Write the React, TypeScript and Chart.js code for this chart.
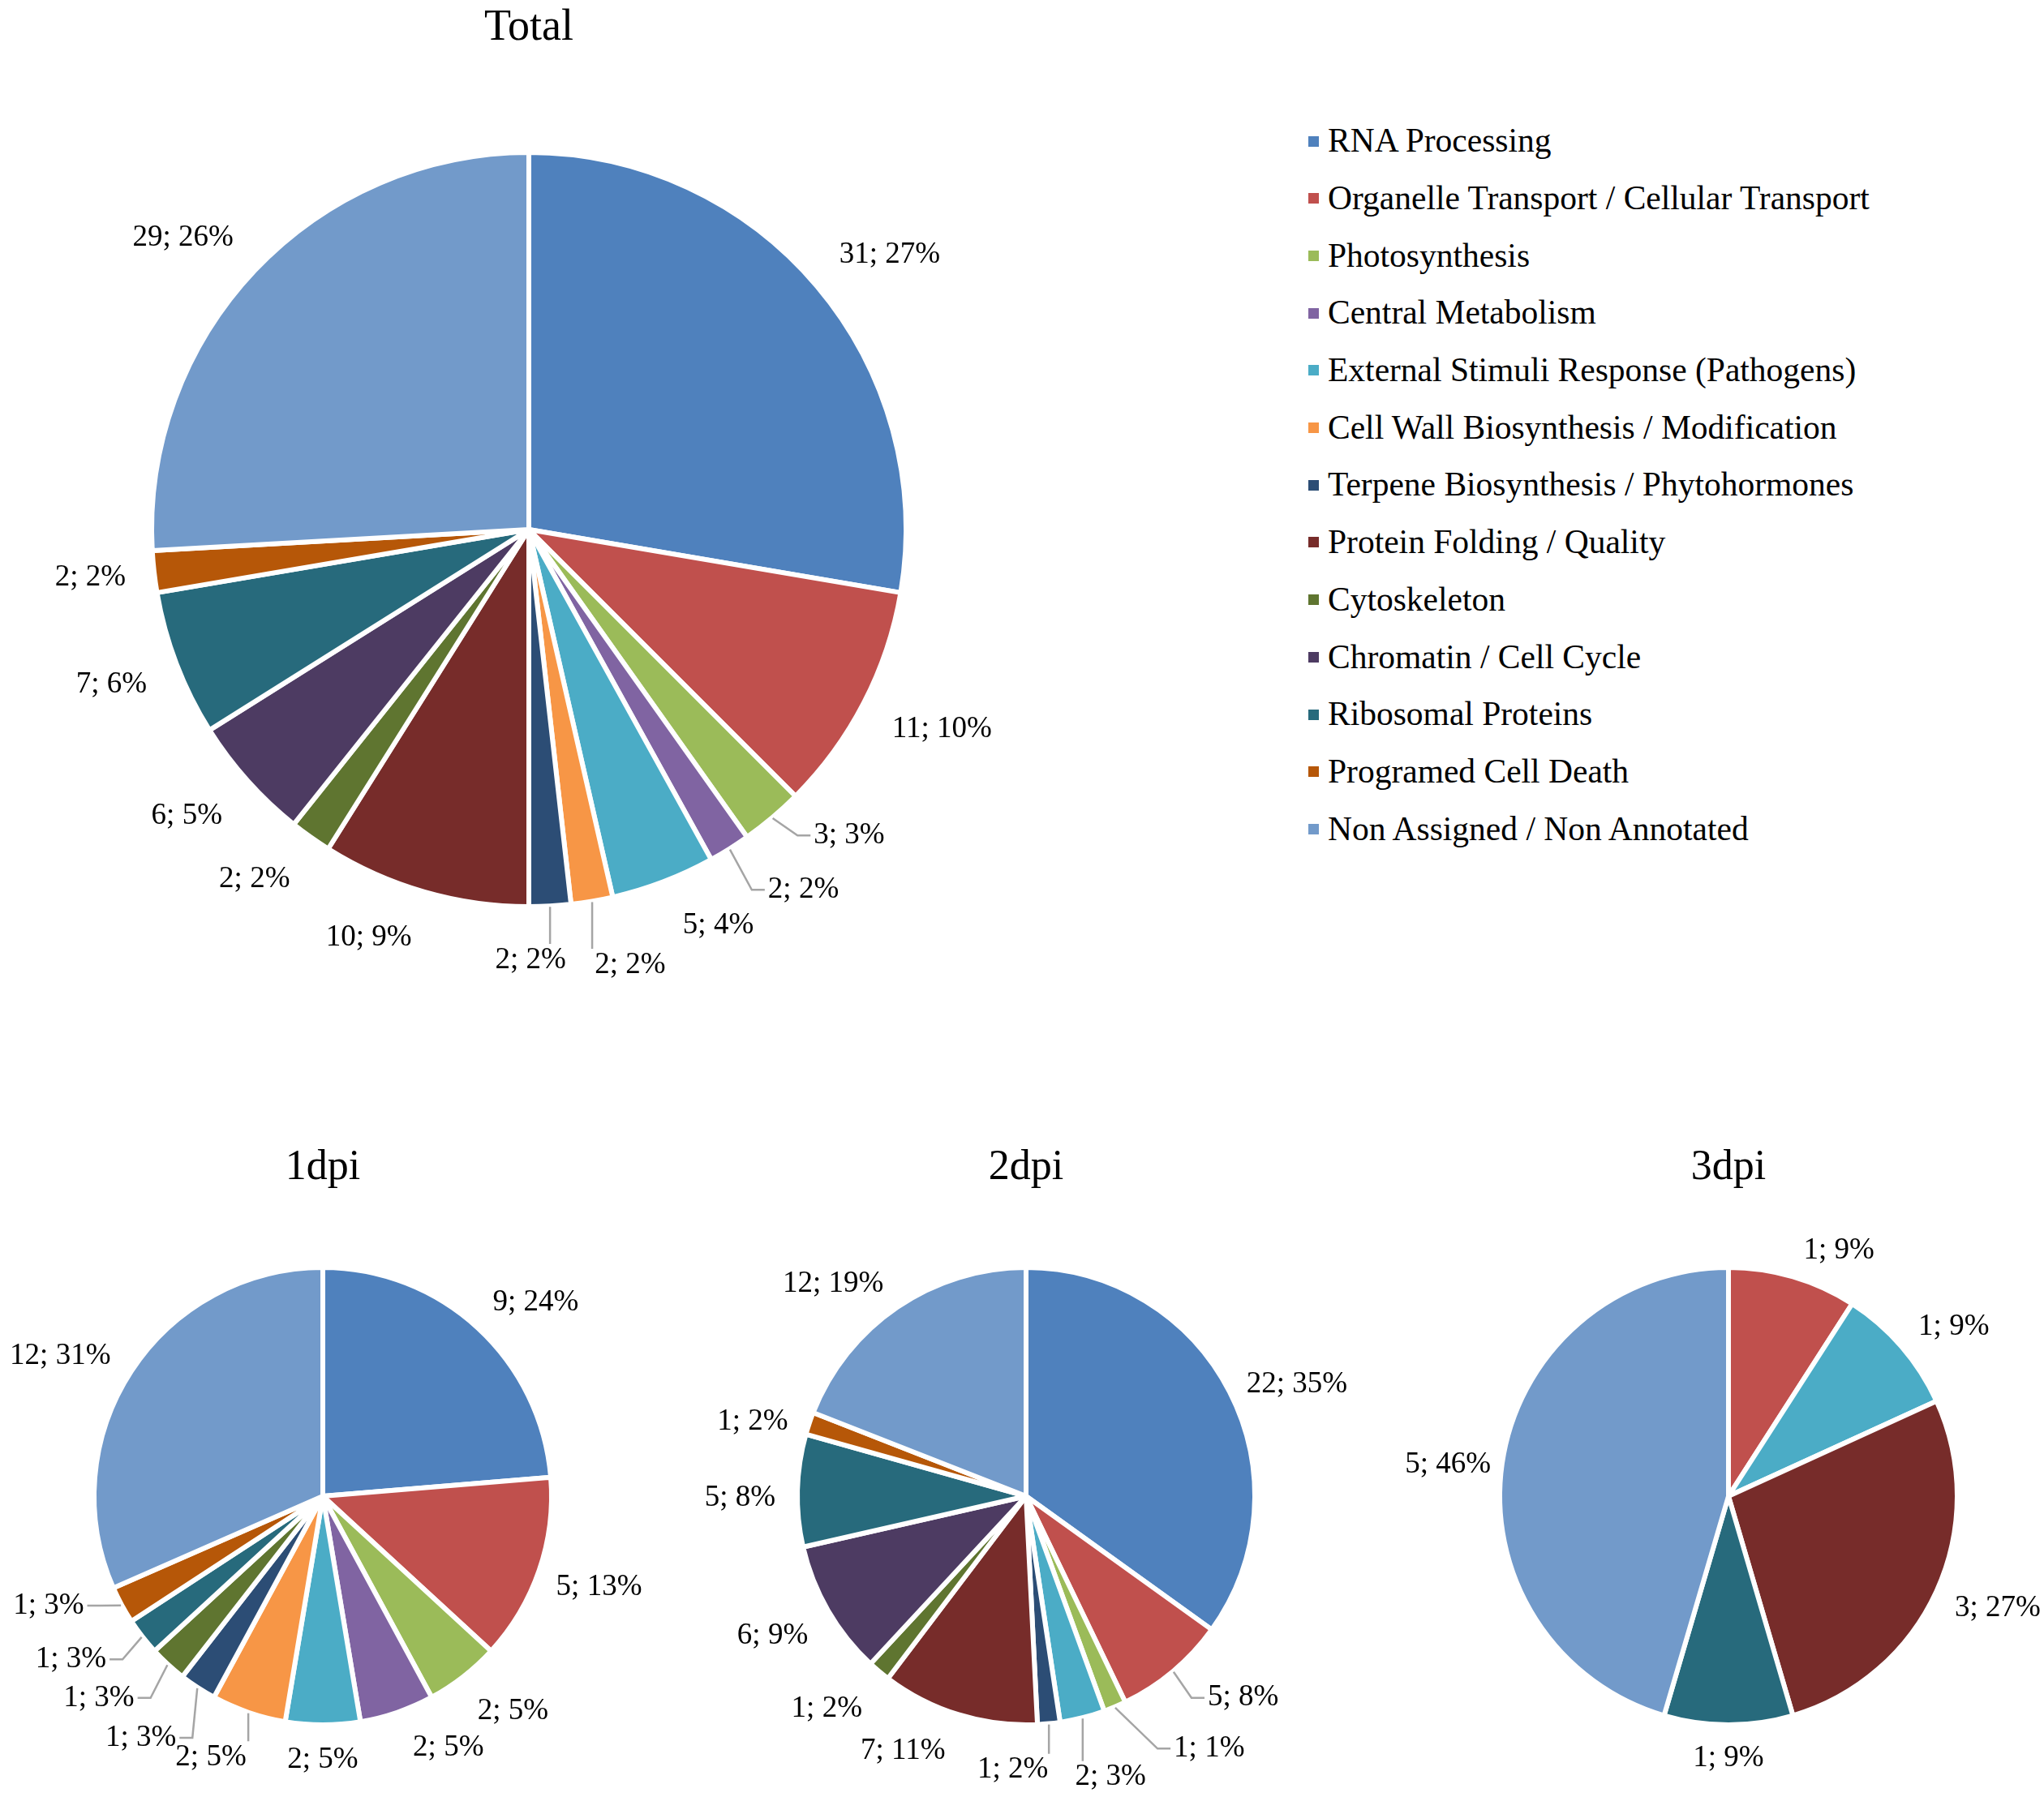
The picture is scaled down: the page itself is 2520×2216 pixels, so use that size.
import { useEffect, useRef } from 'react'
import { Chart, registerables } from 'chart.js'

Chart.register(...registerables)

// categories shared by all four pies (legend order = slice order)
const categories = [
  'RNA Processing',
  'Organelle Transport / Cellular Transport',
  'Photosynthesis',
  'Central Metabolism',
  'External Stimuli Response (Pathogens)',
  'Cell Wall Biosynthesis / Modification',
  'Terpene Biosynthesis / Phytohormones',
  'Protein Folding / Quality',
  'Cytoskeleton',
  'Chromatin / Cell Cycle',
  'Ribosomal Proteins',
  'Programed Cell Death',
  'Non Assigned / Non Annotated',
]

const sliceColors = [
  '#4F81BD', '#C0504D', '#9BBB59', '#8064A2', '#4BACC6', '#F79646', '#2C4D75',
  '#772C2A', '#5F7530', '#4D3B62', '#276A7C', '#B65708', '#729ACA',
]

const totalCounts = [31, 11, 3, 2, 5, 2, 2, 10, 2, 6, 7, 2, 29]
const totalPercents = [27, 10, 3, 2, 4, 2, 2, 9, 2, 5, 6, 2, 26]

const dpi1Counts = [9, 5, 2, 2, 2, 2, 1, 0, 1, 0, 1, 1, 12]
const dpi1Percents = [24, 13, 5, 5, 5, 5, 3, 0, 3, 0, 3, 3, 31]

const dpi2Counts = [22, 5, 1, 0, 2, 0, 1, 7, 1, 6, 5, 1, 12]
const dpi2Percents = [35, 8, 1, 0, 3, 0, 2, 11, 2, 9, 8, 2, 19]

const dpi3Counts = [0, 1, 0, 0, 1, 0, 0, 3, 0, 0, 1, 0, 5]
const dpi3Percents = [0, 9, 0, 0, 9, 0, 0, 27, 0, 0, 9, 0, 46]

const SERIF = '"Liberation Serif", "Times New Roman", serif'
const BORDER = 6

// labels outside the pie, with grey leader lines for the crowded ones
const outsideLabels = {
  id: 'outsideLabels',
  afterDatasetsDraw(chart: any, _args: any, opts: any) {
    const { ctx } = chart
    const meta = chart.getDatasetMeta(0)
    const values = chart.data.datasets[0].data as number[]
    const f = (t: number) => Math.max(-1, Math.min(1, 2 * t))
    ctx.save()
    ctx.font = `${opts.fontSize}px ${SERIF}`
    ctx.textAlign = 'center'
    ctx.textBaseline = 'middle'
    meta.data.forEach((arc: any, i: number) => {
      const value = values[i]
      if (!value) return
      const { x, y, startAngle, endAngle, outerRadius } = arc.getProps(
        ['x', 'y', 'startAngle', 'endAngle', 'outerRadius'], true)
      const rVis = outerRadius - BORDER / 2
      const mid = (startAngle + endAngle) / 2
      const a = mid + (opts.nudge[i] || 0) * Math.PI / 180
      const text = `${value}; ${opts.percents[i]}%`
      const w = ctx.measureText(text).width
      const h = opts.fontSize * 0.86
      const dist = rVis + opts.gap + (opts.extra[i] || 0)
      const px = x + dist * Math.cos(a)
      const py = y + dist * Math.sin(a)
      const cx = px + (w / 2) * f(Math.cos(a))
      const cy = py + (h / 2) * f(Math.sin(a))

      if (opts.leader[i]) {
        const sx = x + (rVis + 4) * Math.cos(mid)
        const sy = y + (rVis + 4) * Math.sin(mid)
        const left = cx - w / 2 - 4
        const right = cx + w / 2 + 4
        const top = cy - h / 2 - 4
        const bottom = cy + h / 2 + 4
        ctx.strokeStyle = '#A5A5A5'
        ctx.lineWidth = 2.5
        ctx.beginPath()
        ctx.moveTo(sx, sy)
        if (sx >= left && sx <= right) {
          ctx.lineTo(sx, sy < cy ? top : bottom)
        } else {
          const ex = sx < left ? left : right
          ctx.lineTo(sx < left ? ex - 16 : ex + 16, cy)
          ctx.lineTo(ex, cy)
        }
        ctx.stroke()
      }
      ctx.fillStyle = '#000'
      ctx.fillText(text, cx, cy)
    })
    ctx.restore()
  },
}

interface PieProps {
  counts: number[]
  percents: number[]
  cx: number
  cy: number
  radius: number
  pad: number
  gap: number
  nudge: number[]
  extra: number[]
  leader: boolean[]
}

function Pie({ counts, percents, cx, cy, radius, pad, gap, nudge, extra, leader }: PieProps) {
  const canvasRef = useRef<HTMLCanvasElement | null>(null)
  const chartRef = useRef<Chart | null>(null)
  const size = 2 * radius + 2 * BORDER + 2 * pad

  useEffect(() => {
    if (!canvasRef.current) return
    if (chartRef.current) chartRef.current.destroy()
    chartRef.current = new Chart(canvasRef.current, {
      type: 'pie',
      data: {
        labels: categories,
        datasets: [{
          data: counts,
          backgroundColor: sliceColors,
          borderColor: '#ffffff',
          borderWidth: BORDER,
        }],
      },
      options: {
        responsive: false,
        animation: false,
        devicePixelRatio: 1,
        events: [],
        layout: { padding: pad },
        plugins: {
          legend: { display: false },
          tooltip: { enabled: false },
          outsideLabels: { fontSize: 37, gap, nudge, extra, leader, percents },
        } as any,
      },
      plugins: [outsideLabels],
    })
    return () => {
      if (chartRef.current) {
        chartRef.current.destroy()
        chartRef.current = null
      }
    }
  }, [counts, percents])

  return (
    <canvas
      ref={canvasRef}
      width={size}
      height={size}
      style={{ position: 'absolute', left: cx - size / 2, top: cy - size / 2, width: size, height: size }}
    />
  )
}

function Title({ text, cx, baseline, size }: { text: string; cx: number; baseline: number; size: number }) {
  return (
    <div style={{
      position: 'absolute', left: cx - 300, width: 600, top: baseline - 0.8375 * size,
      textAlign: 'center', font: `${size}px ${SERIF}`, lineHeight: 1, color: '#000',
    }}>{text}</div>
  )
}

export default function App() {
  const leaderTotal = [false, false, true, true, false, true, true, false, false, false, false, false, false]
  const leader1 = [false, false, false, false, false, true, true, false, true, false, true, true, false]
  const leader2 = [false, true, true, false, true, false, true, false, false, false, false, false, false]

  return (
    <div style={{ position: 'absolute', left: 0, top: 0, width: 2520, height: 2216, background: '#fff', overflow: 'hidden' }}>
      <Pie
        counts={totalCounts} percents={totalPercents}
        cx={652} cy={653} radius={462} pad={140} gap={42}
        nudge={[0, 0, -4, -2.4, -2, -2, 3, 2.5, 0, 0, 0, 0, 0]}
        extra={[-3, 0, 0, 16, 9, 28, 11, 10, 5, 3, 0, -4, -3]}
        leader={leaderTotal}
      />
      <Pie
        counts={dpi1Counts} percents={dpi1Percents}
        cx={398} cy={1845} radius={279} pad={125} gap={26}
        nudge={[0.6, 0.5, 0.5, -3.5, 0, 0.6, -0.5, 0, 2.3, 0, 3.1, 5.8, -2.2]}
        extra={[1, 0, 9, 13, 4, 20, 30, 0, 24, 0, 20, 14, 0]}
        leader={leader1}
      />
      <Pie
        counts={dpi2Counts} percents={dpi2Percents}
        cx={1265} cy={1845} radius={279} pad={125} gap={26}
        nudge={[2.5, -3.9, -8.8, 0, 0.2, 0, 8, 3.8, -0.7, -0.2, -1.8, -2.7, -1.3]}
        extra={[-6, 18, 42, 0, 36, 0, 17, 15, 14, 6, 4, 0, -3]}
        leader={leader2}
      />
      <Pie
        counts={dpi3Counts} percents={dpi3Percents}
        cx={2131} cy={1845} radius={279} pad={125} gap={26}
        nudge={[0, 3.9, 0, 0, 1.5, 0, 0, -0.3, 0, 0, 0, 0, -1.3]}
        extra={[0, 1, 0, 0, -2, 0, 0, 1, 0, 0, 2, 0, -10]}
        leader={new Array(13).fill(false)}
      />

      <Title text="Total" cx={652} baseline={49} size={54} />
      <Title text="1dpi" cx={398} baseline={1455} size={52} />
      <Title text="2dpi" cx={1265} baseline={1455} size={52} />
      <Title text="3dpi" cx={2131} baseline={1455} size={52} />

      {categories.map((name, i) => {
        const baseline = 188 + 70.7 * i
        return (
          <div key={name}>
            <div style={{
              position: 'absolute', left: 1613, top: baseline - 14 - 6.5, width: 13, height: 13,
              background: sliceColors[i],
            }} />
            <div style={{
              position: 'absolute', left: 1637, top: baseline - 0.8375 * 41.5, whiteSpace: 'nowrap',
              font: `41.5px ${SERIF}`, lineHeight: 1, color: '#000',
            }}>{name}</div>
          </div>
        )
      })}
    </div>
  )
}
